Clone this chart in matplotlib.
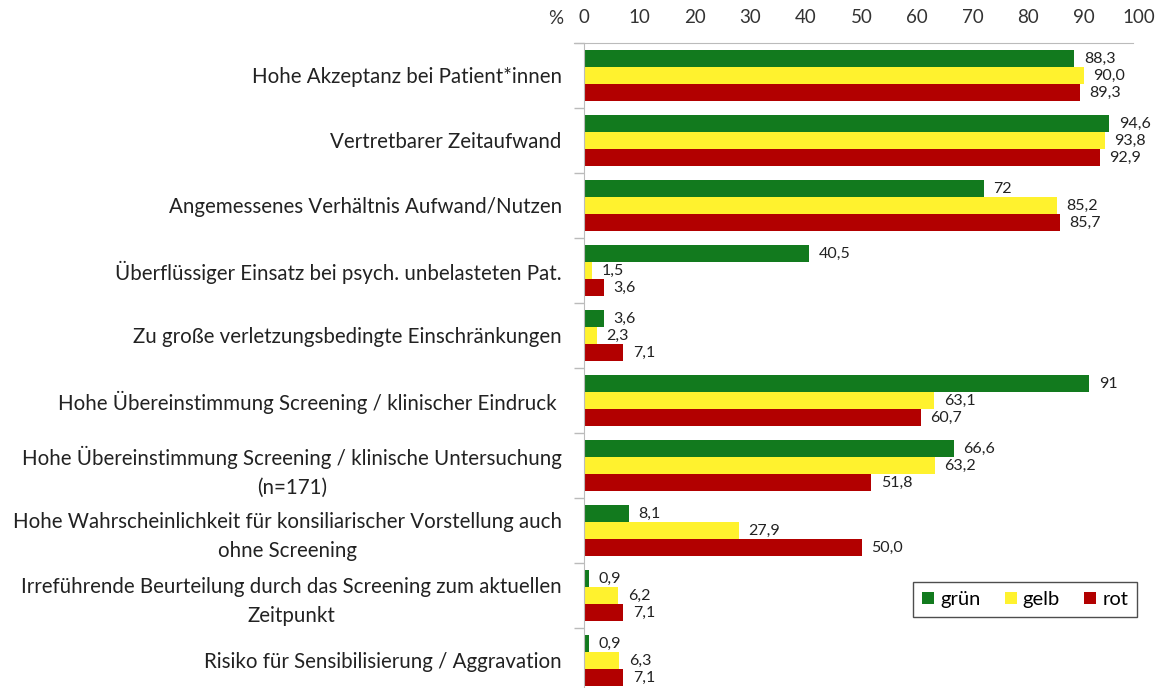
import matplotlib
matplotlib.use("Agg")
import matplotlib.pyplot as plt
import numpy as np

categories = [
    "Hohe Akzeptanz bei Patient*innen",
    "Vertretbarer Zeitaufwand",
    "Angemessenes Verhältnis Aufwand/Nutzen",
    "Überflüssiger Einsatz bei psych. unbelasteten Pat.",
    "Zu große verletzungsbedingte Einschränkungen",
    "Hohe Übereinstimmung Screening / klinischer Eindruck ",
    "Hohe Übereinstimmung Screening / klinische Untersuchung\n(n=171)",
    "Hohe Wahrscheinlichkeit für konsiliarischer Vorstellung auch\nohne Screening",
    "Irreführende Beurteilung durch das Screening zum aktuellen\nZeitpunkt",
    "Risiko für Sensibilisierung / Aggravation",
]
series_names = ["grün", "gelb", "rot"]
gruen = [88.3, 94.6, 72, 40.5, 3.6, 91, 66.6, 8.1, 0.9, 0.9]
gelb = [90.0, 93.8, 85.2, 1.5, 2.3, 63.1, 63.2, 27.9, 6.2, 6.3]
rot = [89.3, 92.9, 85.7, 3.6, 7.1, 60.7, 51.8, 50.0, 7.1, 7.1]
gruen_labels = ["88,3", "94,6", "72", "40,5", "3,6", "91", "66,6", "8,1", "0,9", "0,9"]
gelb_labels = ["90,0", "93,8", "85,2", "1,5", "2,3", "63,1", "63,2", "27,9", "6,2", "6,3"]
rot_labels = ["89,3", "92,9", "85,7", "3,6", "7,1", "60,7", "51,8", "50,0", "7,1", "7,1"]
xticks = [0, 10, 20, 30, 40, 50, 60, 70, 80, 90, 100]

colors = ["#127A1E", "#FFF22E", "#B20000"]
plt.rcParams['font.family'] = ['Lato', 'DejaVu Sans']

fig = plt.figure(figsize=(11.58, 6.88), dpi=100)
W, H = 1158, 688
x0, x1 = 584, 1139
ytop, ybot = 43, 693
ax = fig.add_axes([x0 / W, 1 - ybot / H, (x1 - x0) / W, (ybot - ytop) / H])

n = len(categories)
bh = 0.26
ypos = np.arange(n)
all_vals = [gruen, gelb, rot]
all_labels = [gruen_labels, gelb_labels, rot_labels]
for i, (vals, labs) in enumerate(zip(all_vals, all_labels)):
    y = ypos + (i - 1) * bh
    ax.barh(y, vals, height=bh, color=colors[i], label=series_names[i])
    for yy, v, lab in zip(y, vals, labs):
        ax.annotate(lab, (v, yy), xytext=(7, 0), textcoords="offset points",
                    va="center", ha="left", fontsize=11.5, color="#222222")

ax.set_ylim(n - 0.5, -0.5)
ax.set_xlim(0, 100)
ax.xaxis.tick_top()
ax.set_xticks(xticks)
ax.set_xticklabels([str(t) for t in xticks], fontsize=13.5, color="#333333")
ax.tick_params(axis='x', length=0, pad=12)

# category ticks at boundaries
ax.set_yticks(np.arange(n + 1) - 0.5, minor=False)
ax.set_yticklabels([])
ax.tick_params(axis='y', which='major', length=7, color="#bbbbbb", width=1)
ax.set_yticks(ypos, minor=True)
ax.set_yticklabels(categories, minor=True, fontsize=14.8, color="#222222",
                   multialignment='center', linespacing=1.55)
ax.tick_params(axis='y', which='minor', length=0, pad=16)

for s in ["right", "bottom"]:
    ax.spines[s].set_visible(False)
ax.spines["left"].set_color("#bbbbbb")
ax.spines["top"].set_color("#bbbbbb")
ax.spines["top"].set_bounds(-1.8, 99)
ax.spines["top"].set_clip_on(False)

fig.text(548 / W, 1 - 19 / H, "%", fontsize=13.5, color="#333333", ha="left", va="center")

leg = ax.legend(loc="upper left", bbox_to_anchor=((913 - x0) / (x1 - x0), 1 - (582 - ytop) / (ybot - ytop)),
                ncol=3, frameon=True, fancybox=False, fontsize=14.5, handlelength=0.6,
                handleheight=0.6, handletextpad=0.3, columnspacing=1.2, borderpad=0.45,
                borderaxespad=0)
leg.get_frame().set_edgecolor("#222222")
leg.get_frame().set_linewidth(1)

fig.savefig("out.png", dpi=100)
